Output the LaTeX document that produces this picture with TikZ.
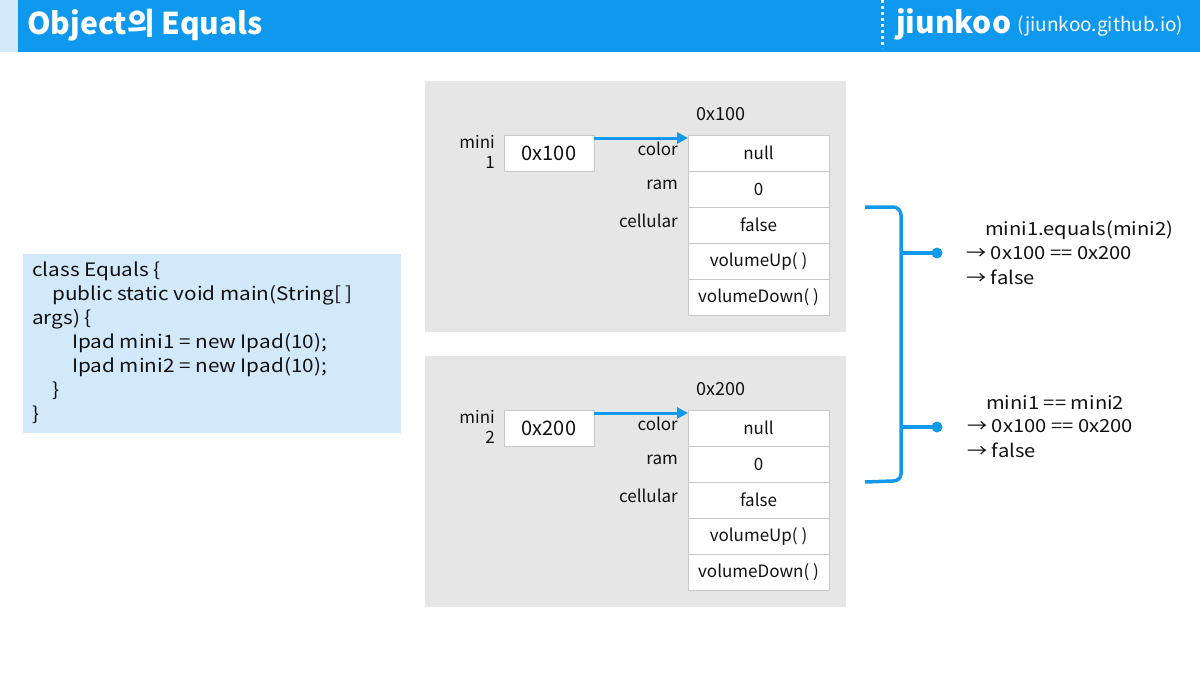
\documentclass[tikz,border=0pt]{standalone}
\usepackage{fontspec}
\setmainfont{Noto Sans CJK KR}
\newfontfamily\widefont{Noto Sans CJK KR}[FakeStretch=1.12]
\usetikzlibrary{arrows.meta}
\definecolor{hdrblue}{HTML}{0E98EE}
\definecolor{hdrlight}{HTML}{D2E9FA}
\definecolor{codebg}{HTML}{D2E9FB}
\definecolor{panelgray}{HTML}{E6E6E6}
\definecolor{cellborder}{HTML}{C8C8C8}
\definecolor{linkblue}{HTML}{1199EE}
\definecolor{txt}{HTML}{111111}
\tikzset{
  cell/.style={draw=cellborder, fill=white, line width=0.8pt, minimum width=141pt, minimum height=36pt, inner sep=0pt, font=\fontsize{17}{20}\selectfont, text=txt},
  ptr/.style={draw=cellborder, fill=white, line width=0.8pt, minimum width=90pt, minimum height=36pt, inner sep=0pt, font=\fontsize{20}{24}\selectfont, text=txt},
  lbl/.style={anchor=east, inner sep=0pt, font=\fontsize{17}{20}\selectfont, text=txt},
  plain/.style={inner sep=0pt, font=\fontsize{17}{20}\selectfont, text=txt},
  result/.style={anchor=west, inner sep=0pt, font=\widefont\fontsize{18}{22}\selectfont, text=txt},
  link/.style={draw=linkblue, line width=3pt, -{Triangle[length=11pt,width=11pt]}},
  brace/.style={draw=linkblue, line width=3.5pt},
  dotb/.style={circle, fill=linkblue, inner sep=0pt, minimum size=11pt},
}
\begin{document}
\begin{tikzpicture}[x=1pt,y=-1pt]
\useasboundingbox (0,0) rectangle (1200,675);
\fill[white] (0,0) rectangle (1200,675);
% header
\fill[hdrlight] (0,0) rectangle (18,52);
\fill[hdrblue] (18,0) rectangle (1200,52);
\node[anchor=west, inner sep=0pt, text=white, font=\fontsize{30}{34}\bfseries\selectfont] (title) at (27,25) {Object의 Equals};
\draw[white, line width=3pt, dash pattern=on 3pt off 3pt] (882,0) -- (882,48);
\node[anchor=west, inner sep=0pt, text=white, font=\fontsize{30}{34}\bfseries\selectfont] (brand) at (896,24) {jiunkoo};
\node[anchor=west, inner sep=0pt, text=white, font=\fontsize{19}{22}\selectfont] (site) at (1017,26) {(jiunkoo.github.io)};
% code box
\fill[codebg] (23,254) rectangle (401,433);
\node[anchor=north west, inner sep=0pt, align=left, text=txt, font=\widefont\fontsize{18.5}{24}\selectfont] (code) at (32,262) {class Equals \{\\
\hspace*{20pt}public static void main(String[ ]\\
args) \{\\
\hspace*{40pt}Ipad mini1 = new Ipad(10);\\
\hspace*{40pt}Ipad mini2 = new Ipad(10);\\
\hspace*{20pt}\}\\
\}};
% panels
\fill[panelgray] (425,81) rectangle (846,332);
\fill[panelgray] (425,356) rectangle (846,607);
% top object
\node[plain, font=\fontsize{18}{20}\selectfont] (addr1) at (721,114) {0x100};
\node[plain, align=right, anchor=east] (nm1) at (495,152) {mini\\1};
\node[ptr] (p1) at (549,153) {0x100};
\node[cell] (a1) at (758.5,153) {null};
\node[cell] (a2) at (758.5,189) {0};
\node[cell] (a3) at (758.5,225) {false};
\node[cell] (a4) at (758.5,261) {volumeUp( )};
\node[cell] (a5) at (758.5,297) {volumeDown( )};
\node[lbl] (la1) at (678,149) {color};
\node[lbl] (la2) at (678,185) {ram};
\node[lbl] (la3) at (678,221) {cellular};
\coordinate (s1) at (594,138);
\coordinate (t1) at (688,138);
\draw[link] (s1) -- (t1);
% bottom object
\node[plain, font=\fontsize{18}{20}\selectfont] (addr2) at (721,389) {0x200};
\node[plain, align=right, anchor=east] (nm2) at (495,427) {mini\\2};
\node[ptr] (p2) at (549,428) {0x200};
\node[cell] (b1) at (758.5,428) {null};
\node[cell] (b2) at (758.5,464) {0};
\node[cell] (b3) at (758.5,500) {false};
\node[cell] (b4) at (758.5,536) {volumeUp( )};
\node[cell] (b5) at (758.5,572) {volumeDown( )};
\node[lbl] (lb1) at (678,424) {color};
\node[lbl] (lb2) at (678,460) {ram};
\node[lbl] (lb3) at (678,496) {cellular};
\coordinate (s2) at (594,413);
\coordinate (t2) at (688,413);
\draw[link] (s2) -- (t2);
% brace
\coordinate (bt) at (865,207);
\coordinate (bb) at (865,482);
\draw[brace] (bt) -- (893,207) to[out=0,in=90] (901,215) -- (901,474) to[out=-90,in=0] (893,481) -- (bb);
\node[dotb] (d1) at (937,253) {};
\node[dotb] (d2) at (937,427) {};
\draw[brace] (901,253) -- (d1.center);
\draw[brace] (901,427) -- (d2.center);
% results
\node[result] (r1a) at (985,230) {mini1.equals(mini2)};
\node[result] (r1b) at (966,253) {→ 0x100 == 0x200};
\node[result] (r1c) at (966,277) {→ false};
\node[result] (r2a) at (986,403) {mini1 == mini2};
\node[result] (r2b) at (967,426) {→ 0x100 == 0x200};
\node[result] (r2c) at (967,450) {→ false};
\end{tikzpicture}
\end{document}
